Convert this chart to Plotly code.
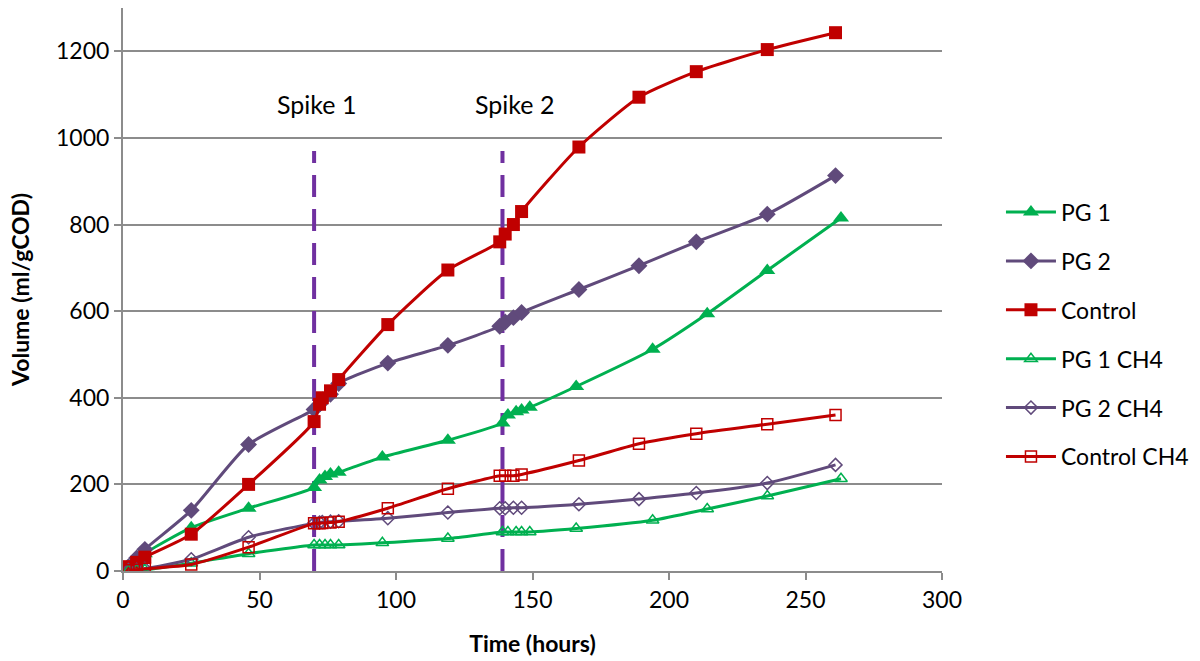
import plotly.graph_objects as go

# Sampling times (hours) for each series
t_ctrl = [2, 5, 8, 25, 46, 70, 72, 73, 76, 79, 97, 119, 138, 140, 143, 146, 167, 189, 210, 236, 261]
t_pg1 = [2, 5, 8, 25, 46, 70, 72, 74, 76, 79, 95, 119, 139, 141, 144, 146, 149, 166, 194, 214, 236, 263]

# Cumulative biogas volume (ml/gCOD)
pg1 = [5, 20, 40, 100, 145, 193, 210, 218, 224, 228, 263, 302, 342, 360, 368, 372, 378, 426, 512, 594, 694, 815]
pg2 = [10, 30, 50, 140, 292, 373, 385, 395, 408, 433, 480, 521, 565, 575, 585, 597, 650, 705, 760, 824, 913]
control = [10, 20, 32, 85, 200, 345, 385, 400, 416, 442, 569, 695, 760, 778, 800, 830, 979, 1094, 1153, 1204, 1243]

# Cumulative methane volume (ml/gCOD)
pg1_ch4 = [1, 2, 3, 18, 40, 60, 60, 60, 60, 60, 65, 75, 90, 90, 90, 90, 90, 98, 117, 143, 173, 213]
pg2_ch4 = [2, 3, 5, 27, 78, 110, 112, 113, 114, 115, 122, 135, 145, 145, 146, 146, 154, 166, 180, 203, 245]
control_ch4 = [2, 3, 5, 15, 55, 110, 110, 111, 112, 114, 145, 190, 220, 220, 220, 223, 255, 294, 317, 339, 360]

# Substrate spikes
spike_times = [70, 139]
spike_labels = ["Spike 1", "Spike 2"]
spike_top = 970

GREEN = "#00B050"
PURPLE = "#604A7B"
RED = "#C00000"
SPIKE = "#7030A0"

fig = go.Figure()

label_shift = [1, 4.5]
for ts, lab, dx in zip(spike_times, spike_labels, label_shift):
    fig.add_trace(go.Scatter(
        x=[ts, ts], y=[0, spike_top], mode="lines",
        line=dict(color=SPIKE, width=4, dash="22px,12px"),
        showlegend=False, hoverinfo="skip"))
    fig.add_annotation(x=ts + dx, y=1078, text=lab, showarrow=False,
                       font=dict(size=25, color="#000000"))

series = [
    ("PG 1", t_pg1, pg1, GREEN, "triangle-up", 14, 0),
    ("PG 2", t_ctrl, pg2, PURPLE, "diamond", 13, 0),
    ("Control", t_ctrl, control, RED, "square", 13, 0),
    ("PG 1 CH4", t_pg1, pg1_ch4, GREEN, "triangle-up-open", 11, 1.5),
    ("PG 2 CH4", t_ctrl, pg2_ch4, PURPLE, "diamond-open", 10, 1.5),
    ("Control CH4", t_ctrl, control_ch4, RED, "square-open", 11, 1.5),
]

for name, xs, ys, col, sym, sz, lw in series:
    fig.add_trace(go.Scatter(
        x=xs, y=ys, name=name, mode="lines+markers",
        line=dict(color=col, width=3, shape="spline", smoothing=0.6),
        marker=dict(symbol=sym, size=sz, color=col, line=dict(color=col, width=lw)),
        legendgroup=name))

fig.update_layout(
    width=1200, height=661,
    margin=dict(l=123, r=258, t=8, b=90, autoexpand=False),
    paper_bgcolor="white", plot_bgcolor="white",
    font=dict(family="Lato, Carlito, Calibri, sans-serif", size=23, color="#000000"),
    legend=dict(x=1.072, y=0.42, xanchor="left", yanchor="middle",
                font=dict(size=23), tracegroupgap=16, itemwidth=50,
                bgcolor="rgba(0,0,0,0)"),
    showlegend=True,
)

fig.update_xaxes(
    range=[0, 300], tickvals=[0, 50, 100, 150, 200, 250, 300],
    showgrid=False, zeroline=False,
    showline=True, linecolor="#8C8C8C", linewidth=2,
    ticks="outside", ticklen=7, tickcolor="#8C8C8C", tickwidth=2,
    tickfont=dict(size=23),
    title=dict(text="<b>Time (hours)</b>", font=dict(size=23), standoff=24),
)
fig.update_yaxes(
    range=[0, 1300], tickvals=[0, 200, 400, 600, 800, 1000, 1200],
    showgrid=True, gridcolor="#8C8C8C", gridwidth=2, zeroline=False,
    showline=True, linecolor="#8C8C8C", linewidth=2,
    ticks="outside", ticklen=7, tickcolor="#8C8C8C", tickwidth=2,
    tickfont=dict(size=23),
    title=dict(text="<b>Volume (ml/gCOD)</b>", font=dict(size=23), standoff=20),
)

fig.write_html("out.html")
